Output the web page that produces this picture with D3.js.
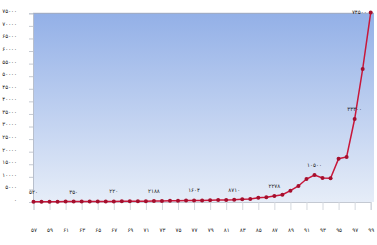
<!DOCTYPE html>
<meta charset="utf-8">
<style>
body { margin: 0; background: #fff; }
text { font-family: "DejaVu Sans", sans-serif; }
.axis-label { font-size: 5.5px; fill: #222; }
.data-label { font-size: 5.5px; fill: #1a1a1a; }
.line { fill: none; stroke: #c8173a; stroke-width: 1.5px; }
.dot { fill: #a50f2d; }
</style>
<svg width="377" height="245"></svg>
<script src="https://d3js.org/d3.v7.min.js"></script>
<script>

// سال ها (۱۳۵۷ تا ۱۳۹۹)
const years = [57, 58, 59, 60, 61, 62, 63, 64, 65, 66, 67, 68, 69, 70, 71, 72, 73, 74, 75, 76, 77, 78,
  79, 80, 81, 82, 83, 84, 85, 86, 87, 88, 89, 90, 91, 92, 93, 94, 95, 96, 97, 98, 99];
const values = [100, 110, 120, 130, 150, 180, 190, 200, 210, 220, 230, 250, 270, 300, 330, 380, 420, 460,
  520, 560, 600, 640, 700, 760, 820, 870, 1070, 1190, 1710, 1870, 2390, 2900, 4490, 6360, 9140, 10730,
  9540, 9420, 17210, 17890, 32990, 52860, 75300];

const tickYears = [57, 59, 61, 63, 65, 67, 69, 71, 73, 75, 77, 79, 81, 83, 85, 87, 89, 91, 93, 95, 97, 99];
const yTicks = [0, 5000, 10000, 15000, 20000, 25000, 30000, 35000, 40000, 45000, 50000, 55000, 60000,
  65000, 70000, 75000];

// برچسب های روی نمودار
const labelYears = [57, 62, 67, 72, 77, 82, 87, 92, 97, 99];
const labelTexts = ["۵۲۰", "۳۵۰", "۲۲۰", "۲۱۸۸", "۱۶۰۴", "۸۷۱۰", "۲۲۷۸", "۱۰۵۰۰", "۳۳۳۰۰", "۷۴۵۰۰"];

const fa = d3.format("d");
function persian(n) {
  return String(n).replace(/[0-9]/g, function(c) { return "۰۱۲۳۴۵۶۷۸۹"[+c]; });
}

var svg = d3.select("svg");

var x = d3.scaleLinear().domain([57, 99]).range([33.5, 370.7]);
var y = d3.scaleLinear().domain([0, 75000]).range([202, 13.3]);

var defs = svg.append("defs");
var grad = defs.append("linearGradient").attr("id", "bg")
  .attr("x1", 0).attr("y1", 0).attr("x2", 0).attr("y2", 1);
grad.append("stop").attr("offset", "0%").attr("stop-color", "#93b0e7");
grad.append("stop").attr("offset", "100%").attr("stop-color", "#e6edf8");

svg.append("rect")
  .attr("x", 33).attr("y", y(75000))
  .attr("width", 341).attr("height", y(0) - y(75000))
  .attr("fill", "url(#bg)");

// خط بالا
svg.append("line")
  .attr("x1", 33).attr("x2", 374)
  .attr("y1", y(75000)).attr("y2", y(75000))
  .attr("stroke", "#9aa6bd").attr("stroke-width", 1);

// محور عمودی
var yAxis = svg.append("g").attr("transform", "translate(33,0)")
  .call(d3.axisLeft(y).tickValues(yTicks).tickSize(4).tickFormat(function(d) { return persian(fa(d)); }));
yAxis.select(".domain").attr("stroke", "#b8bfcc");
yAxis.selectAll(".tick line").attr("stroke", "#c4c9d2");
yAxis.selectAll(".tick text")
  .attr("class", "axis-label")
  .attr("x", -16).attr("dy", "-0.6px")
  .attr("text-anchor", "end");

// محور افقی
var xAxis = svg.append("g").attr("transform", "translate(0," + y(0) + ")")
  .call(d3.axisBottom(x).tickValues(tickYears).tickSize(8).tickFormat(function(d) { return persian(d); }));
xAxis.select(".domain").attr("stroke", "#c4c9d2");
xAxis.selectAll(".tick line").attr("stroke", "#d4d8de");
xAxis.selectAll(".tick text")
  .attr("class", "axis-label")
  .attr("y", 28).attr("dy", "0.35em");

var line = d3.line()
  .x(function(d, i) { return x(years[i]); })
  .y(function(d) { return y(d); });

svg.append("path").datum(values).attr("class", "line").attr("d", line);

svg.selectAll("circle.dot")
  .data(values)
  .enter().append("circle")
  .attr("class", "dot")
  .attr("cx", function(d, i) { return x(years[i]); })
  .attr("cy", function(d) { return y(d); })
  .attr("r", 2);

svg.selectAll("text.data-label")
  .data(labelYears)
  .enter().append("text")
  .attr("class", "data-label")
  .attr("x", function(d, i) { return i === labelYears.length - 1 ? x(d) - 4 : x(d); })
  .attr("y", function(d, i) {
    var v = values[years.indexOf(d)];
    return i === labelYears.length - 1 ? y(v) + 1.5 : y(v) - 8;
  })
  .attr("text-anchor", function(d, i) { return i === labelYears.length - 1 ? "end" : "middle"; })
  .text(function(d, i) { return labelTexts[i]; });

</script>
